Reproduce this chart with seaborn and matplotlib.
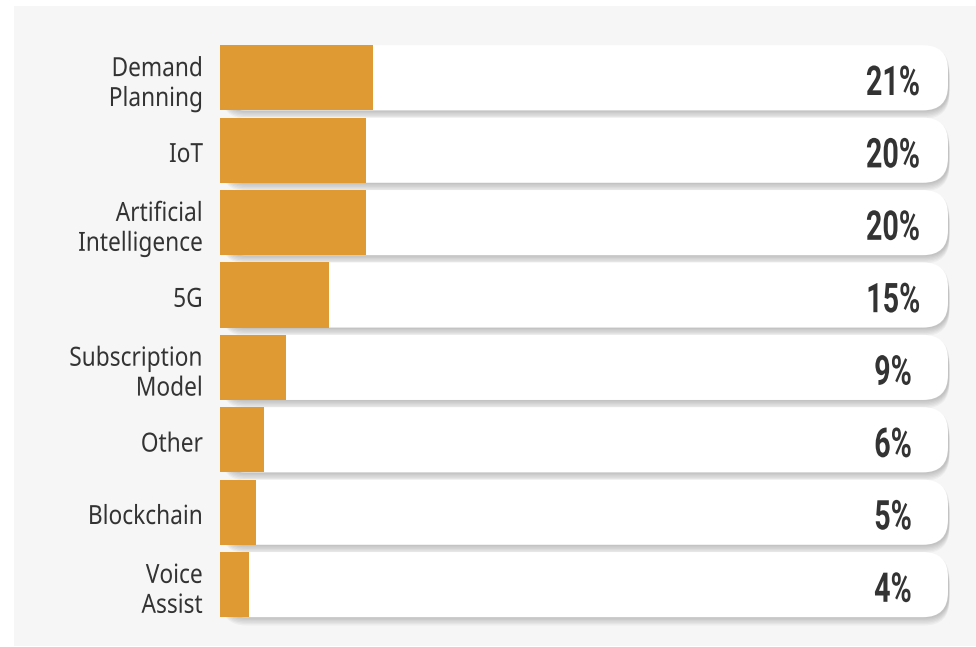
import matplotlib
matplotlib.use("Agg")
import matplotlib.pyplot as plt
import seaborn as sns
from matplotlib import patheffects
from matplotlib.patches import FancyBboxPatch, Rectangle
from matplotlib.transforms import Affine2D

# ---- data -------------------------------------------------------------
categories = ["Demand\nPlanning", "IoT", "Artificial\nIntelligence", "5G",
              "Subscription\nModel", "Other", "Blockchain", "Voice\nAssist"]
shares = [21, 20, 20, 15, 9, 6, 5, 4]
track_max = 100

# ---- style ------------------------------------------------------------
ORANGE = "#E09A34"
TEXT = "#333333"
PANEL = "#F6F6F6"

W, H, DPI = 976, 647, 100


class Squeeze(patheffects.AbstractPathEffect):
    """Narrow the glyph outlines horizontally around a chosen anchor."""

    def __init__(self, factor, anchor="center"):
        super().__init__()
        self.factor = factor
        self.anchor = anchor

    def draw_path(self, renderer, gc, tpath, affine, rgbFace=None):
        bb = tpath.get_extents(affine)
        if self.anchor == "right":
            ax0 = bb.x1
        elif self.anchor == "left":
            ax0 = bb.x0
        else:
            ax0 = 0.5 * (bb.x0 + bb.x1)
        aff = affine + Affine2D().translate(-ax0, 0).scale(self.factor, 1).translate(ax0, 0)
        renderer.draw_path(gc, tpath, aff, rgbFace)


sns.set_theme(style="white")
fig = plt.figure(figsize=(W / DPI, H / DPI), dpi=DPI)
fig.patch.set_facecolor("white")
fig.patches.append(Rectangle((14 / W, 1 / H), (W - 14) / W, (H - 7) / H,
                             transform=fig.transFigure, facecolor=PANEL,
                             edgecolor="none", zorder=-10))

ax = fig.add_axes([220 / W, 26.2 / H, 728 / W, 579.2 / H])
ax.set_facecolor("none")

# orange value bars
sns.barplot(x=shares, y=categories, orient="h", color=ORANGE, saturation=1,
            width=0.9, ax=ax, zorder=3, edgecolor="none", linewidth=0)

ax.set_xlim(0, track_max)
ax.set_ylim(len(categories) - 0.5, -0.5)

# white rounded tracks with a soft drop shadow
px_x = 728 / track_max          # pixels per x unit
px_y = 579.2 / len(categories)  # pixels per y unit
radius_px = 25
aspect = (radius_px / px_y) / (radius_px / px_x)
shadow = [patheffects.SimplePatchShadow(offset=(1.0, -d), shadow_rgbFace="black",
                                        alpha=0.035)
          for d in (1, 2, 3, 4, 5, 6)]
for i, _ in enumerate(categories):
    track = FancyBboxPatch((0, i - 0.45), track_max, 0.9,
                           boxstyle=f"round,pad=0,rounding_size={radius_px / px_x}",
                           mutation_aspect=aspect, transform=ax.transData,
                           facecolor="white", edgecolor="none", zorder=1,
                           clip_on=False)
    track.set_path_effects(shadow + [patheffects.Normal()])
    ax.add_patch(track)

# category labels, right aligned left of the bars (anchored on the last line)
for i, name in enumerate(categories):
    n = name.count("\n") + 1
    y = i + (11.8 + (n - 1) * 16.4) / px_y
    ax.text(-17 / px_x, y, name, ha="right", va="baseline", family="Noto Sans",
            fontsize=19, color=TEXT, linespacing=1.09, clip_on=False,
            path_effects=[Squeeze(0.86, "right")])

# value labels inside the tracks
for i, v in enumerate(shares):
    ax.text((893 - 220) / px_x, i + 17.2 / px_y, f"{v}%", ha="center",
            va="baseline", family="Roboto", fontweight="bold", fontsize=29.5,
            color=TEXT, clip_on=False, path_effects=[Squeeze(0.7, "center")])

ax.set_xlabel("")
ax.set_ylabel("")
ax.set_xticks([])
ax.set_yticks([])
for s in ax.spines.values():
    s.set_visible(False)

fig.savefig("out.png", dpi=DPI, facecolor=fig.get_facecolor())
